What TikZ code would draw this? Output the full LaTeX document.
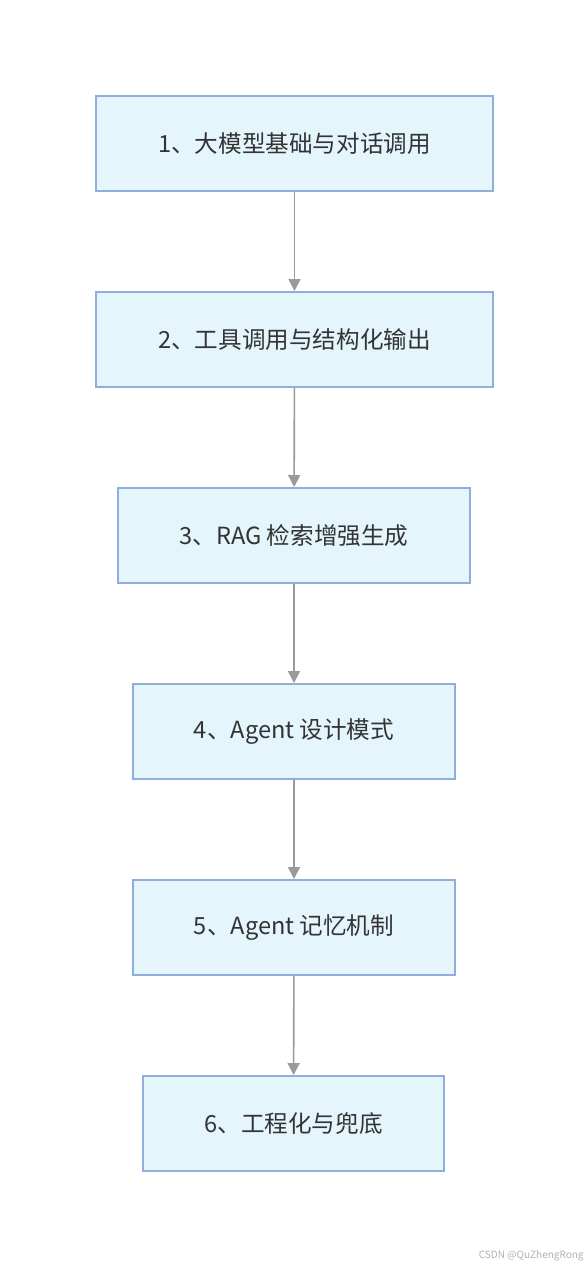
\documentclass[tikz,border=0pt]{standalone}
\usepackage{fontspec}
\setmainfont{Noto Sans CJK SC}
\usepackage{tikz}
\usetikzlibrary{arrows.meta}
\definecolor{stepfill}{HTML}{E4F5FC}
\definecolor{stepline}{HTML}{8FAEDC}
\definecolor{flowgray}{HTML}{9A9A9A}
\begin{document}
\begin{tikzpicture}[x=0.5pt,y=-0.5pt,
  stepbox/.style={draw=stepline,fill=stepfill,line width=1pt,minimum height=47.5pt,
    font=\fontsize{11.8}{14}\selectfont,text=black!80},
  flow/.style={draw=flowgray,line width=0.8pt,-{Triangle[width=6pt,length=6pt]}}]
\useasboundingbox[fill=white] (0,0) rectangle (588,1268);
\node[stepbox,minimum width=198.5pt] (s1) at (294.5,143.5) {1、大模型基础与对话调用};
\node[stepbox,minimum width=198.5pt] (s2) at (294.5,339.5) {2、工具调用与结构化输出};
\node[stepbox,minimum width=176pt] (s3) at (294,535.5) {3、RAG 检索增强生成};
\node[stepbox,minimum width=161pt] (s4) at (294,731.5) {4、Agent 设计模式};
\node[stepbox,minimum width=161pt] (s5) at (294,927.5) {5、Agent 记忆机制};
\node[stepbox,minimum width=150.5pt] (s6) at (293.5,1123.5) {6、工程化与兜底};
\draw[flow] (s1) -- (s2);
\draw[flow] (s2) -- (s3);
\draw[flow] (s3) -- (s4);
\draw[flow] (s4) -- (s5);
\draw[flow] (s5) -- (s6);
% watermark
\node[anchor=east,text=black!30,font=\fontsize{5}{6}\selectfont,inner sep=0pt] (mark) at (584,1256) {CSDN @QuZhengRong};
\end{tikzpicture}
\end{document}
